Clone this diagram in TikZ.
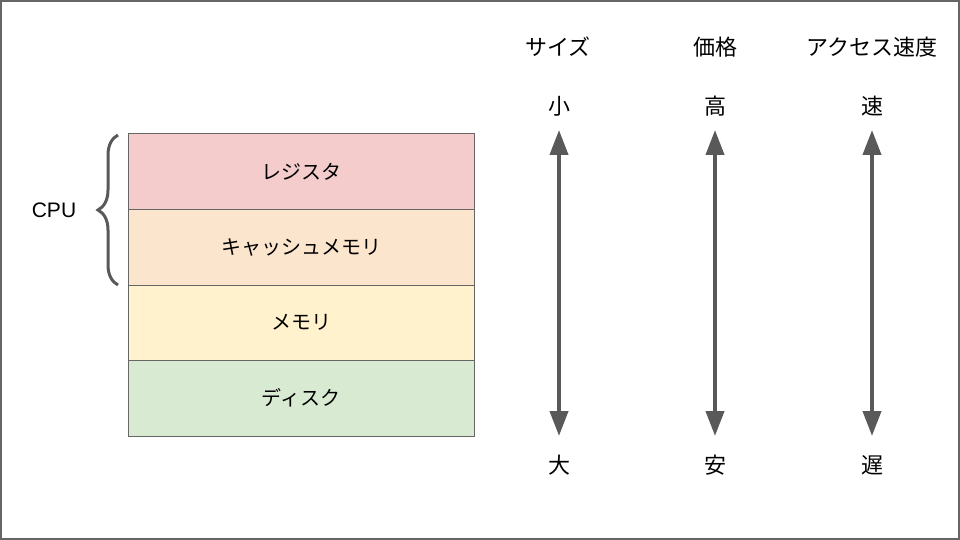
\documentclass[tikz,border=0pt]{standalone}
\usepackage{fontspec}
\setmainfont{Liberation Sans}
\newfontfamily\jpfont{Noto Sans CJK JP}
\usetikzlibrary{arrows.meta,decorations.pathreplacing}
\definecolor{linegray}{HTML}{595959}
\definecolor{boxborder}{HTML}{666666}
\definecolor{cRed}{HTML}{F4CCCC}
\definecolor{cOrange}{HTML}{FCE5CD}
\definecolor{cYellow}{HTML}{FFF2CC}
\definecolor{cGreen}{HTML}{D9EAD3}
\tikzset{
  layerbox/.style={draw=boxborder, line width=1pt, outer sep=0pt, minimum width=346pt, minimum height=75.5pt, inner sep=0pt, font=\jpfont\fontsize{20}{24}\selectfont},
  lbl/.style={inner sep=0pt, font=\jpfont\fontsize{22}{26}\selectfont},
  scalearrow/.style={draw=linegray, line width=4pt, {Triangle[width=18pt,length=25pt]}-{Triangle[width=18pt,length=25pt]}}
}
\begin{document}
\begin{tikzpicture}[x=1pt,y=-1pt]
\useasboundingbox (0,0) rectangle (960,540);
\draw[boxborder, line width=2pt] (1,1) rectangle (959,539);
% layers
\node[layerbox, fill=cRed, anchor=north west] (reg) at (128,134) {レジスタ};
\node[layerbox, fill=cOrange, anchor=north] (cache) at (reg.south) {キャッシュメモリ};
\node[layerbox, fill=cYellow, anchor=north] (mem) at (cache.south) {メモリ};
\node[layerbox, fill=cGreen, anchor=north] (disk) at (mem.south) {ディスク};
% brace
\coordinate (bt) at (118,135);
\coordinate (bb) at (118,285);
\draw[linegray, line width=3pt, decorate, decoration={brace, amplitude=20pt, aspect=0.5}] (bb) -- (bt);
\node[inner sep=0pt, font=\fontsize{21}{25}\selectfont] (cpu) at (54,210) {CPU};
% headers
\node[lbl] (h1) at (558,47) {サイズ};
\node[lbl] (h2) at (715,47) {価格};
\node[lbl] (h3) at (872,47) {アクセス速度};
\node[lbl] (t1) at (559,106) {小};
\node[lbl] (t2) at (715,106) {高};
\node[lbl] (t3) at (872,106) {速};
\node[lbl] (b1) at (559,465) {大};
\node[lbl] (b2) at (715,465) {安};
\node[lbl] (b3) at (872,465) {遅};
\coordinate (a1t) at (559,130); \coordinate (a1b) at (559,436);
\coordinate (a2t) at (715,130); \coordinate (a2b) at (715,436);
\coordinate (a3t) at (872,130); \coordinate (a3b) at (872,436);
\draw[scalearrow] (a1t) -- (a1b);
\draw[scalearrow] (a2t) -- (a2b);
\draw[scalearrow] (a3t) -- (a3b);
\end{tikzpicture}
\end{document}
